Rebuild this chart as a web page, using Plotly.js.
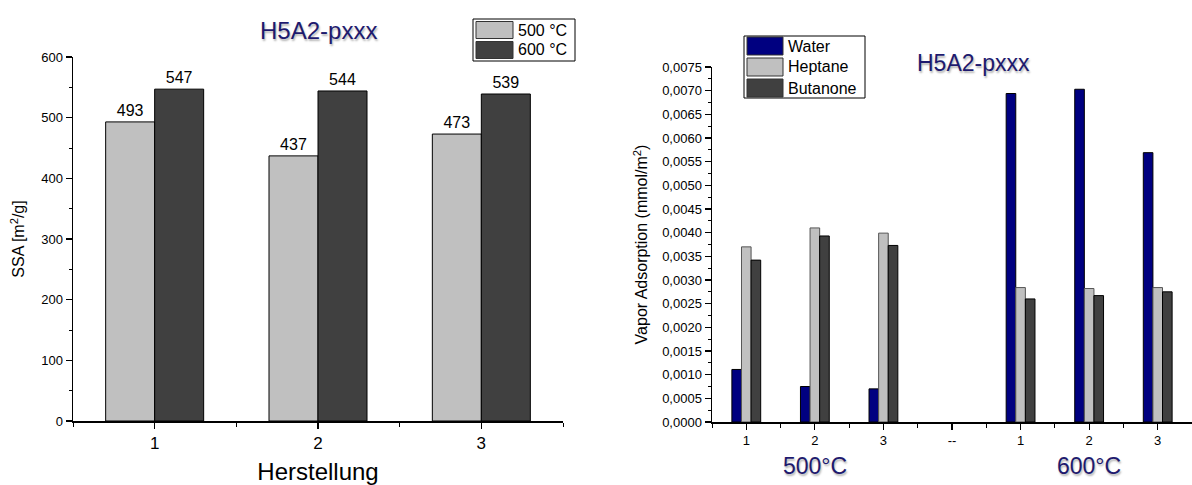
<!DOCTYPE html>
<html>
<head>
<meta charset="utf-8">
<script src="https://cdn.plot.ly/plotly-3.0.1.min.js"></script>
<style>html,body{margin:0;padding:0;background:#fff;}#chart{width:1192px;height:485px;}</style>
</head>
<body>
<div id="chart"></div>
<script>
// ---- data: left chart (SSA) ----
const herstellung = [1, 2, 3];
const ssa500 = [493, 437, 473];
const ssa600 = [547, 544, 539];
const ssaSeries = ['500 °C', '600 °C'];

// ---- data: right chart (vapor adsorption) ----
const vaporTickLabels = ['1', '2', '3', '--', '1', '2', '3'];
const water    = [0.00111, 0.00075, 0.00070, null, 0.00694, 0.00703, 0.00569];
const heptane  = [0.00370, 0.00410, 0.00399, null, 0.00284, 0.00282, 0.00284];
const butanone = [0.00342, 0.00393, 0.00373, null, 0.00260, 0.00267, 0.00275];
const vaporSeries = ['Water', 'Heptane', 'Butanone'];
const groupLabels = ['500°C', '600°C'];
const titleText = 'H5A2-pxxx';

// ---- styling ----
const W = 1192, H = 485;
const px = x => x / W, py = y => 1 - y / H;
const FONT = 'Liberation Sans, Arial, sans-serif';
const NAVY = '#000080';
const LIGHT = '#c0c0c0';
const DARK = '#404040';
const TITLE_COLOR = '#1e1a6e';
const SHADOW = '1px 2px 2px rgba(0,0,0,0.30)';
const ssaColors = [LIGHT, DARK];
const vaporColors = [NAVY, LIGHT, DARK];

const idx = vaporTickLabels.map((_, i) => i);

const traces = [];
[ssa500, ssa600].forEach((vals, k) => {
  traces.push({
    type: 'bar', name: ssaSeries[k], x: herstellung, y: vals,
    xaxis: 'x', yaxis: 'y',
    width: 0.3, offset: k === 0 ? -0.3 : 0,
    marker: {color: ssaColors[k], line: {color: '#000', width: 1}},
    text: vals.map(String), textposition: 'outside',
    textfont: {size: 16, color: '#000', family: FONT},
    cliponaxis: false, showlegend: false, hoverinfo: 'x+y'
  });
});
[water, heptane, butanone].forEach((vals, k) => {
  traces.push({
    type: 'bar', name: vaporSeries[k], x: idx, y: vals,
    xaxis: 'x2', yaxis: 'y2',
    width: 0.14, offset: -0.21 + 0.14 * k,
    marker: {color: vaporColors[k], line: {color: k === 1 ? '#555' : '#000', width: 1}},
    showlegend: false, hoverinfo: 'y'
  });
});

const axisCommon = {
  showline: true, linecolor: '#000', linewidth: 1.5,
  ticks: 'outside', ticklen: 6, tickwidth: 1.2, tickcolor: '#000',
  showgrid: false, zeroline: false, automargin: false,
  fixedrange: true
};

const shapes = [];
const annotations = [];

// custom legends
function legend(names, colors, box, sw, rowY, textX) {
  shapes.push({type: 'rect', xref: 'paper', yref: 'paper',
    x0: px(box[0]), x1: px(box[1]), y0: py(box[3]), y1: py(box[2]),
    line: {color: '#000', width: 1}, fillcolor: '#fff'});
  names.forEach((n, i) => {
    shapes.push({type: 'rect', xref: 'paper', yref: 'paper',
      x0: px(sw[0]), x1: px(sw[1]), y0: py(rowY[i] + sw[2]), y1: py(rowY[i] - sw[2]),
      line: {color: '#333', width: 1}, fillcolor: colors[i]});
    annotations.push({xref: 'paper', yref: 'paper', x: px(textX), y: py(rowY[i]),
      xanchor: 'left', yanchor: 'middle', showarrow: false, text: n,
      font: {size: 16, color: '#000', family: FONT}});
  });
}
legend(ssaSeries, ssaColors, [473, 575, 19, 61], [476, 513, 8.5], [30, 50], 516);
legend(vaporSeries, vaporColors, [744, 865, 36, 98], [747, 783, 9], [46, 67, 88], 786);

// titles
annotations.push({xref: 'x', yref: 'paper', x: 2, y: py(30), showarrow: false,
  text: titleText, xanchor: 'center', yanchor: 'middle',
  font: {size: 24, color: TITLE_COLOR, family: FONT, shadow: SHADOW}});
annotations.push({xref: 'paper', yref: 'paper', x: px(973), y: py(63), showarrow: false,
  text: titleText, xanchor: 'center', yanchor: 'middle',
  font: {size: 23, color: TITLE_COLOR, family: FONT, shadow: SHADOW}});
// group labels under right chart
[1, 5].forEach((xv, i) => {
  annotations.push({xref: 'x2', yref: 'paper', x: xv, y: py(466), showarrow: false,
    text: groupLabels[i], xanchor: 'center', yanchor: 'middle',
    font: {size: 23, color: TITLE_COLOR, family: FONT, shadow: SHADOW}});
});

const layout = {
  width: W, height: H,
  margin: {l: 0, r: 0, t: 0, b: 0, pad: 0},
  paper_bgcolor: '#fff', plot_bgcolor: 'rgba(0,0,0,0)',
  separators: ',.',
  font: {family: FONT, color: '#000'},
  barmode: 'group',
  showlegend: false,
  xaxis: Object.assign({}, axisCommon, {
    domain: [px(73), px(563)], anchor: 'y',
    range: [0.5, 3.5], tickmode: 'array', tickvals: herstellung,
    tickfont: {size: 17, family: FONT},
    minor: {tickmode: 'array', tickvals: [0.5, 1.5, 2.5, 3.5], ticks: 'outside', ticklen: 4, tickcolor: '#000', tickwidth: 1},
    title: {text: 'Herstellung', font: {size: 24, family: FONT}, standoff: 14}
  }),
  yaxis: Object.assign({}, axisCommon, {
    domain: [py(421), py(57)], anchor: 'x',
    range: [0, 600], tickmode: 'linear', tick0: 0, dtick: 100,
    tickfont: {size: 13, family: FONT},
    minor: {dtick: 50, ticks: 'outside', ticklen: 3, tickcolor: '#000', tickwidth: 1},
    title: {text: 'SSA [m<sup>2</sup>/g]', font: {size: 16, family: FONT}, standoff: 12}
  }),
  xaxis2: Object.assign({}, axisCommon, {
    domain: [px(712), 1], anchor: 'y2',
    range: [-0.5, 6.5], tickmode: 'array', tickvals: idx, ticktext: vaporTickLabels,
    tickfont: {size: 13, family: FONT},
    minor: {tickmode: 'array', tickvals: idx.map(i => i - 0.5).concat([6.5]), ticks: 'outside', ticklen: 4, tickcolor: '#000', tickwidth: 1}
  }),
  yaxis2: Object.assign({}, axisCommon, {
    domain: [py(422), py(67)], anchor: 'x2',
    range: [0, 0.0075], tickmode: 'linear', tick0: 0, dtick: 0.0005, tickformat: '.4f',
    tickfont: {size: 13, family: FONT},
    minor: {dtick: 0.00025, ticks: 'outside', ticklen: 3, tickcolor: '#000', tickwidth: 1},
    title: {text: 'Vapor Adsorption (mmol/m<sup>2</sup>)', font: {size: 16, family: FONT}, standoff: 10}
  }),
  shapes: shapes,
  annotations: annotations
};

Plotly.newPlot('chart', traces, layout, {displayModeBar: false, staticPlot: true});
</script>
</body>
</html>
